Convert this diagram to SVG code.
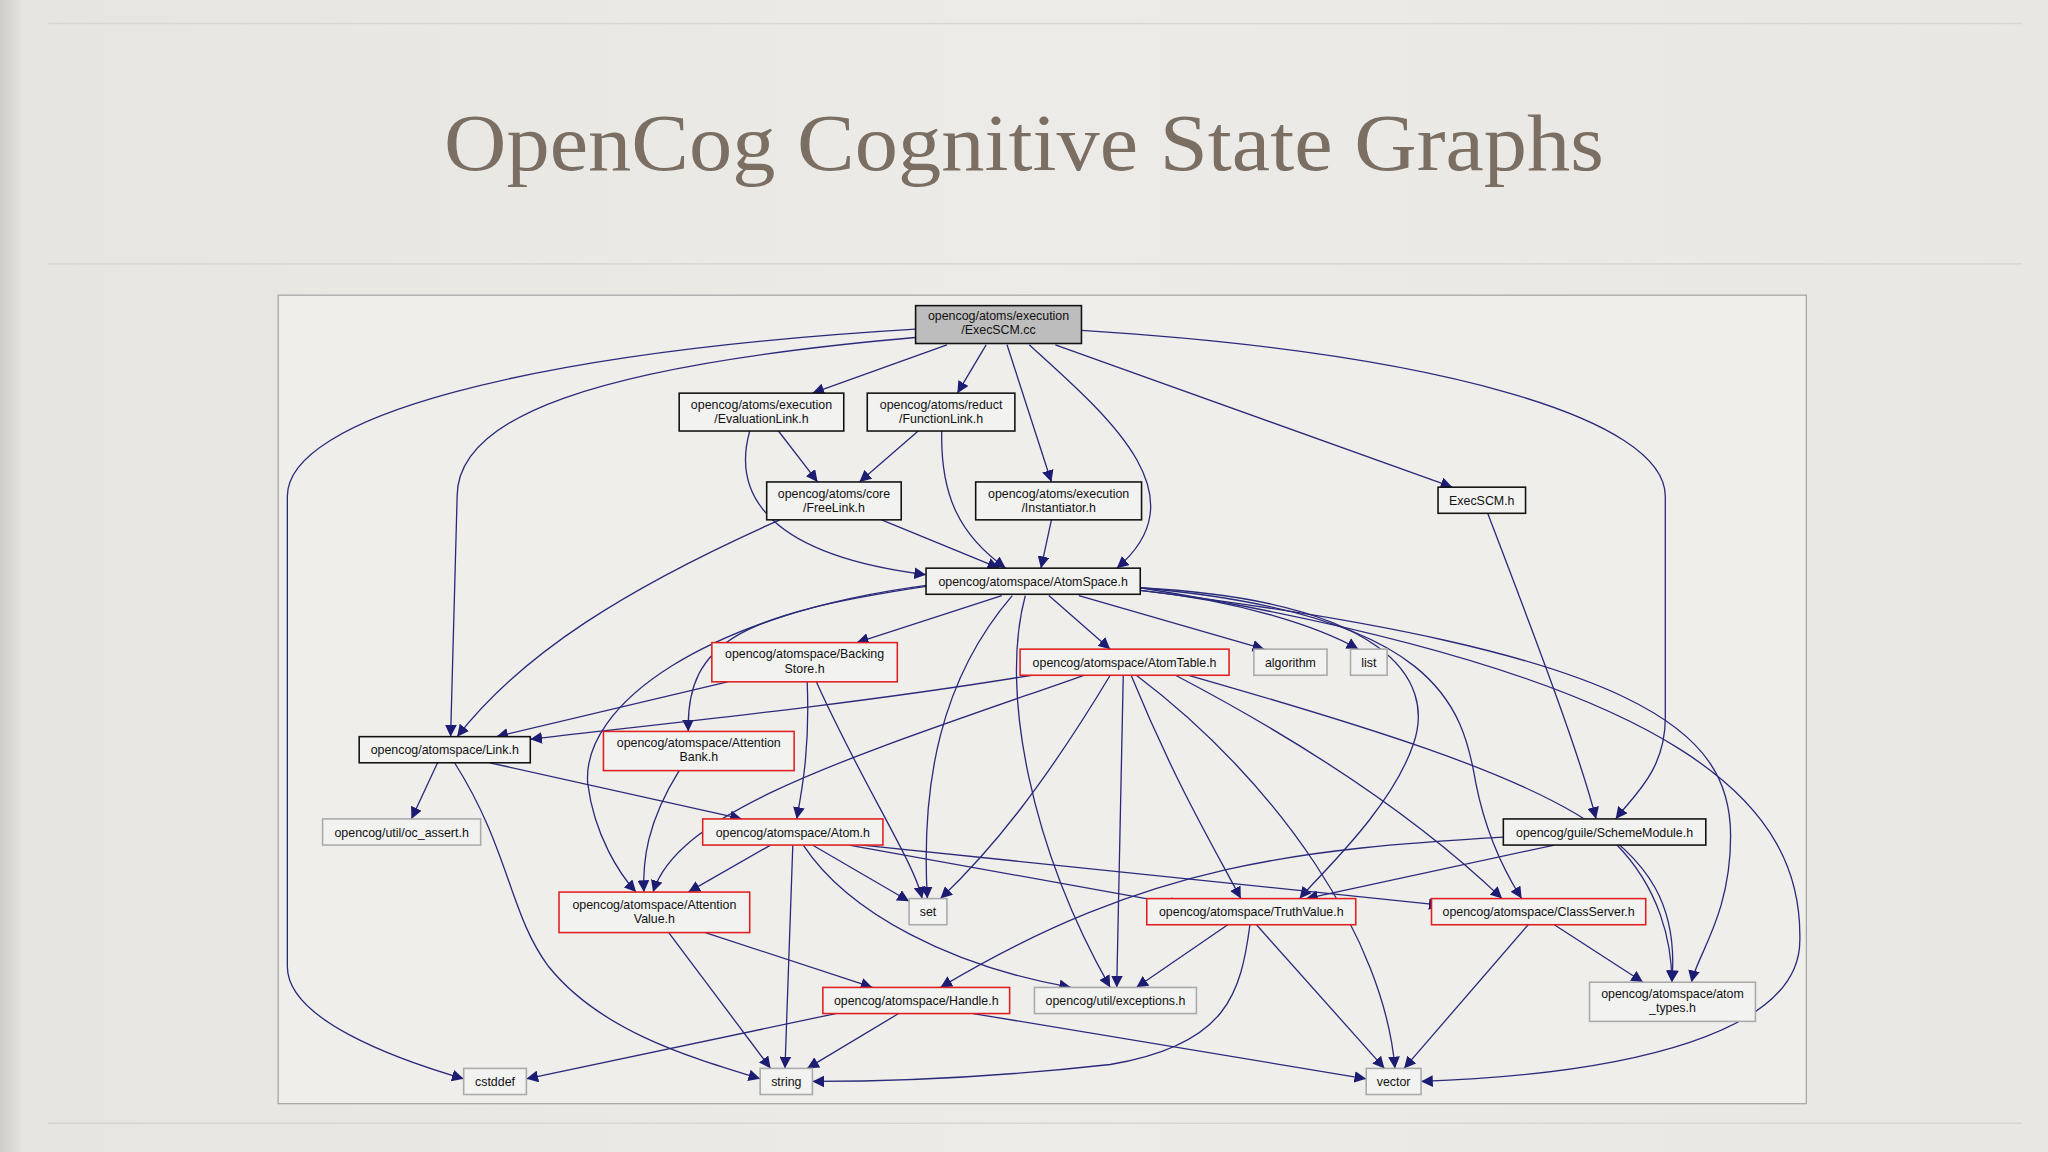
<svg xmlns="http://www.w3.org/2000/svg" width="2048" height="1152" viewBox="0 0 2048 1152">
<defs>
<marker id="ah" viewBox="0 0 10 10" refX="10" refY="5" markerWidth="9" markerHeight="9" markerUnits="userSpaceOnUse" orient="auto"><path d="M0,0 L10,5 L0,10 z" fill="#1c1c72"/></marker>
<linearGradient id="bg" x1="0" x2="1"><stop offset="0" stop-color="#cfcdc7"/><stop offset="0.012" stop-color="#e6e5e0"/><stop offset="0.5" stop-color="#ecebe7"/><stop offset="1" stop-color="#e8e7e3"/></linearGradient>
</defs>
<style>
.e{fill:none;stroke:#2a2a7a;stroke-width:1;marker-end:url(#ah)}
.n rect{fill:#f2f2f0;stroke-width:1.2}
.b rect{stroke:#111}
.r rect{stroke:#e02020}
.g rect{stroke:#aaaaaa}
.n text{font-family:"Liberation Sans Narrow","Liberation Sans",sans-serif;font-size:9.5px;fill:#111;text-anchor:middle}
</style>
<rect width="2048" height="1152" fill="url(#bg)"/>
<g transform="scale(1.30612)">
<line x1="37" y1="18" x2="1548" y2="18" stroke="#d8d7d2"/>
<line x1="37" y1="202" x2="1548" y2="202" stroke="#d6d5d0"/>
<line x1="37" y1="860" x2="1548" y2="860" stroke="#d6d5d0"/>
<text x="784" y="130" font-family="Liberation Serif,serif" font-size="62" fill="#7b6f63" text-anchor="middle" textLength="888" lengthAdjust="spacingAndGlyphs">OpenCog Cognitive State Graphs</text>
<rect x="213" y="226" width="1170" height="619" fill="#efeeeb" stroke="#a8a8a8"/>
<g id="edges">
<path class="e" d="M701,252 C400,270 220,320 220,380 L220,740 C220,780 300,810 355,826"/>
<path class="e" d="M705,258 C450,280 350,320 350,380 L345,564"/>
<path class="e" d="M725,264 L622,301"/>
<path class="e" d="M755,264 L733,301"/>
<path class="e" d="M771,264 L805,369"/>
<path class="e" d="M788,264 C850,320 920,380 855,435"/>
<path class="e" d="M808,264 L1112,373"/>
<path class="e" d="M828,253 C1100,270 1275,320 1275,380 L1275,550 C1275,590 1250,610 1237,627"/>
<path class="e" d="M596,330 L626,369"/>
<path class="e" d="M574,330 C560,380 590,425 709,440"/>
<path class="e" d="M703,330 L658,369"/>
<path class="e" d="M721,330 C720,380 735,410 770,435"/>
<path class="e" d="M675,398 L765,435"/>
<path class="e" d="M597,398 C480,450 400,500 350,564"/>
<path class="e" d="M805,398 L797,435"/>
<path class="e" d="M1139,393 C1180,500 1210,580 1222,627"/>
<path class="e" d="M767,456 L656,492"/>
<path class="e" d="M803,456 L850,497"/>
<path class="e" d="M826,456 L968,497"/>
<path class="e" d="M873,452 C950,460 1010,480 1040,497"/>
<path class="e" d="M709,449 C570,470 525,490 527,560"/>
<path class="e" d="M711,448 C540,470 445,540 450,600 C455,640 475,670 487,683"/>
<path class="e" d="M775,456 C720,520 705,600 710,688"/>
<path class="e" d="M785,456 C765,530 790,650 850,756"/>
<path class="e" d="M873,450 C1060,460 1100,520 1082,570 C1065,620 1010,670 995,688"/>
<path class="e" d="M873,450 C1100,470 1120,540 1130,600 C1140,650 1160,680 1165,688"/>
<path class="e" d="M873,452 C1260,500 1325,560 1325,640 C1325,700 1300,730 1295,752"/>
<path class="e" d="M873,450 C1300,520 1380,620 1378,720 C1378,790 1250,822 1088,828"/>
<path class="e" d="M557,522 L380,564"/>
<path class="e" d="M618,522 C620,570 615,600 610,627"/>
<path class="e" d="M625,522 C660,600 700,660 706,688"/>
<path class="e" d="M790,517 C650,540 500,555 406,566"/>
<path class="e" d="M830,517 C650,580 520,620 500,683"/>
<path class="e" d="M850,517 C800,600 760,650 720,688"/>
<path class="e" d="M860,517 L855,756"/>
<path class="e" d="M866,517 C900,600 930,650 950,688"/>
<path class="e" d="M870,517 C980,600 1060,720 1068,818"/>
<path class="e" d="M900,517 C1020,580 1100,640 1150,688"/>
<path class="e" d="M910,517 C1200,600 1290,640 1280,752"/>
<path class="e" d="M335,584 L315,627"/>
<path class="e" d="M375,584 L568,627"/>
<path class="e" d="M348,584 C390,650 390,700 420,740 C460,790 530,810 582,826"/>
<path class="e" d="M520,590 C495,630 492,660 493,683"/>
<path class="e" d="M590,647 L527,683"/>
<path class="e" d="M622,647 L696,690"/>
<path class="e" d="M607,647 L601,818"/>
<path class="e" d="M650,647 L905,693"/>
<path class="e" d="M660,647 L1103,693"/>
<path class="e" d="M615,647 C650,700 730,740 820,756"/>
<path class="e" d="M1190,647 L1000,688"/>
<path class="e" d="M1151,641 C1000,650 880,660 720,756"/>
<path class="e" d="M1238,647 C1270,680 1280,720 1280,752"/>
<path class="e" d="M540,714 L668,756"/>
<path class="e" d="M512,714 L590,818"/>
<path class="e" d="M940,708 L870,756"/>
<path class="e" d="M962,708 L1060,818"/>
<path class="e" d="M957,708 C950,760 940,800 850,815 C760,825 680,828 622,828"/>
<path class="e" d="M1190,708 L1258,752"/>
<path class="e" d="M1170,708 L1075,818"/>
<path class="e" d="M640,776 L403,826"/>
<path class="e" d="M688,776 L618,818"/>
<path class="e" d="M745,776 L1046,826"/>
</g>
<g id="execscm_cc" class="n b"><rect x="701" y="234" width="127" height="29" style="fill:#bdbdbd"/><text x="764.5" y="245">opencog/atoms/execution</text><text x="764.5" y="256">/ExecSCM.cc</text></g>
<g id="evaluationlink" class="n b"><rect x="520" y="301" width="126" height="29"/><text x="583" y="313">opencog/atoms/execution</text><text x="583" y="324">/EvaluationLink.h</text></g>
<g id="functionlink" class="n b"><rect x="664" y="301" width="113" height="29"/><text x="720.5" y="313">opencog/atoms/reduct</text><text x="720.5" y="324">/FunctionLink.h</text></g>
<g id="freelink" class="n b"><rect x="587" y="369" width="103" height="29"/><text x="638.5" y="381">opencog/atoms/core</text><text x="638.5" y="392">/FreeLink.h</text></g>
<g id="instantiator" class="n b"><rect x="747" y="369" width="127" height="29"/><text x="810.5" y="381">opencog/atoms/execution</text><text x="810.5" y="392">/Instantiator.h</text></g>
<g id="execscm_h" class="n b"><rect x="1101" y="373" width="67" height="20"/><text x="1134.5" y="386.5">ExecSCM.h</text></g>
<g id="atomspace" class="n b"><rect x="709" y="435" width="164" height="20"/><text x="791" y="448.5">opencog/atomspace/AtomSpace.h</text></g>
<g id="backingstore" class="n r"><rect x="545" y="492" width="142" height="30"/><text x="616" y="504">opencog/atomspace/Backing</text><text x="616" y="515">Store.h</text></g>
<g id="atomtable" class="n r"><rect x="781" y="497" width="160" height="20"/><text x="861" y="510.5">opencog/atomspace/AtomTable.h</text></g>
<g id="algorithm" class="n g"><rect x="960" y="497" width="56" height="20"/><text x="988" y="510.5">algorithm</text></g>
<g id="list" class="n g"><rect x="1034" y="497" width="28" height="20"/><text x="1048" y="510.5">list</text></g>
<g id="link" class="n b"><rect x="275" y="564" width="131" height="20"/><text x="340.5" y="577.5">opencog/atomspace/Link.h</text></g>
<g id="attentionbank" class="n r"><rect x="462" y="560" width="146" height="30"/><text x="535" y="572">opencog/atomspace/Attention</text><text x="535" y="583">Bank.h</text></g>
<g id="oc_assert" class="n g"><rect x="247" y="627" width="121" height="20"/><text x="307.5" y="640.5">opencog/util/oc_assert.h</text></g>
<g id="atom" class="n r"><rect x="538" y="627" width="138" height="20"/><text x="607" y="640.5">opencog/atomspace/Atom.h</text></g>
<g id="schememodule" class="n b"><rect x="1151" y="627" width="155" height="20"/><text x="1228.5" y="640.5">opencog/guile/SchemeModule.h</text></g>
<g id="attentionvalue" class="n r"><rect x="428" y="683" width="146" height="31"/><text x="501" y="696">opencog/atomspace/Attention</text><text x="501" y="707">Value.h</text></g>
<g id="set" class="n g"><rect x="696" y="688" width="29" height="20"/><text x="710.5" y="701.5">set</text></g>
<g id="truthvalue" class="n r"><rect x="878" y="688" width="160" height="20"/><text x="958" y="701.5">opencog/atomspace/TruthValue.h</text></g>
<g id="classserver" class="n r"><rect x="1096" y="688" width="164" height="20"/><text x="1178" y="701.5">opencog/atomspace/ClassServer.h</text></g>
<g id="atom_types" class="n g"><rect x="1217" y="752" width="127" height="30"/><text x="1280.5" y="764">opencog/atomspace/atom</text><text x="1280.5" y="775">_types.h</text></g>
<g id="handle" class="n r"><rect x="630" y="756" width="143" height="20"/><text x="701.5" y="769.5">opencog/atomspace/Handle.h</text></g>
<g id="exceptions" class="n g"><rect x="792" y="756" width="124" height="20"/><text x="854" y="769.5">opencog/util/exceptions.h</text></g>
<g id="cstddef" class="n g"><rect x="355" y="818" width="48" height="20"/><text x="379" y="831.5">cstddef</text></g>
<g id="string" class="n g"><rect x="582" y="818" width="40" height="20"/><text x="602" y="831.5">string</text></g>
<g id="vector" class="n g"><rect x="1046" y="818" width="42" height="20"/><text x="1067" y="831.5">vector</text></g>
</g>
</svg>
